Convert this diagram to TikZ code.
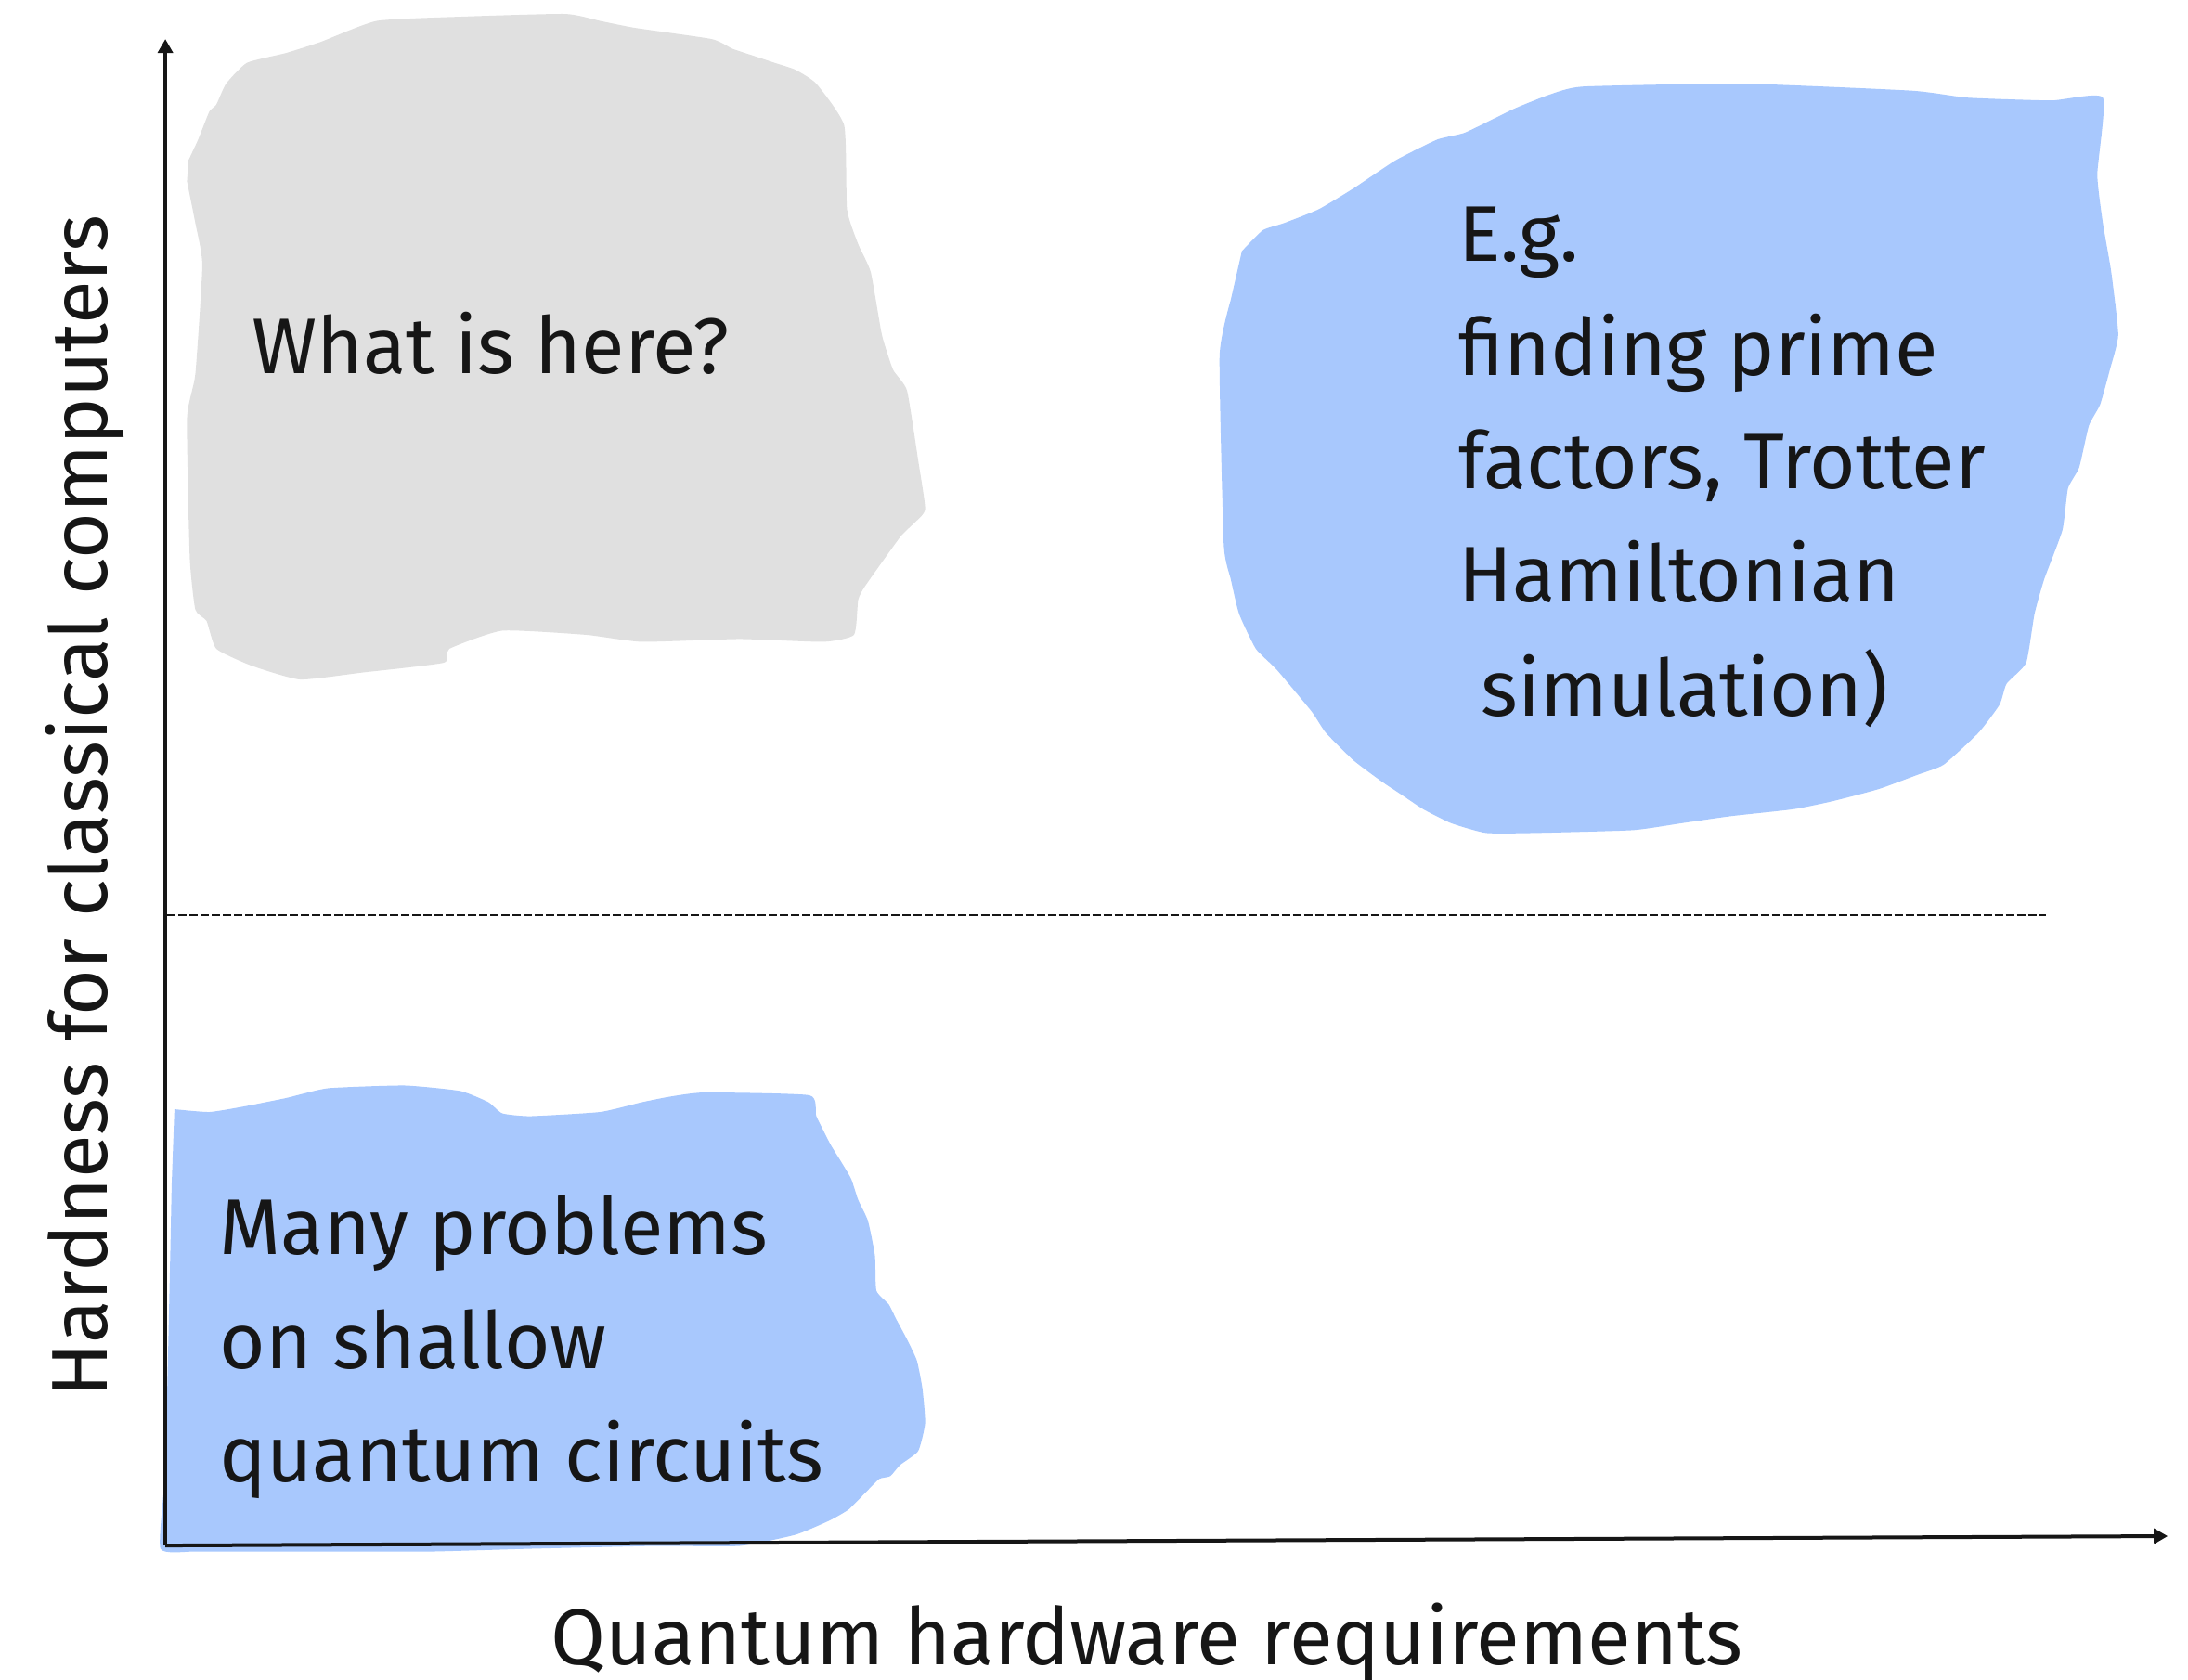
\documentclass[tikz,border=0pt]{standalone}
\usepackage{fontspec}
\setmainfont{Fira Sans}
\usetikzlibrary{arrows.meta}
\definecolor{blobgray}{HTML}{E0E0E0}
\definecolor{blobblue}{HTML}{A8C8FD}
\definecolor{ink}{HTML}{161616}
\begin{document}
\begin{tikzpicture}[x=0.4509pt,y=-0.4509pt,
  axis/.style={line width=1.2pt,draw=ink,-{Triangle[width=4.8pt,length=4.5pt]}},
  divider/.style={line width=0.6pt,draw=ink,dash pattern=on 2.7pt off 0.9pt},
  label/.style={inner sep=0pt,anchor=base west,text=ink,font=\fontsize{25.5}{36.7}\selectfont,align=left},
  axislabel/.style={inner sep=0pt,text=ink,font=\fontsize{25.6}{32}\selectfont}]
\useasboundingbox (0,0) rectangle (1568,1204);
% gray blob
\fill[blobgray] plot[smooth,tension=0.3] coordinates {(135,115)(142,100)(150,80)(155,75)(162,60)(177,45)(205,38)(230,30)(270,15)(330,12)(405,10)(430,15)(455,20)(510,28)(525,35)(540,40)(555,45)(570,50)(585,60)(605,90)(607,150)(615,175)(624,195)(632,240)(640,265)(650,280)(658,330)(663,365)(655,375)(645,385)(620,420)(615,430)(612,455)(590,460)(530,458)(460,460)(420,455)(360,452)(322,465)(318,475)(260,482)(215,487)(180,477)(155,465)(148,445)(140,437)(136,400)(134,300)(140,268)(145,190)(140,160)(134,130)} -- cycle;
% blue blob top right
\fill[blobblue] plot[smooth,tension=0.3] coordinates {(890,180)(905,165)(920,160)(945,150)(970,135)(1000,115)(1030,100)(1050,95)(1085,78)(1110,68)(1135,62)(1250,60)(1370,65)(1410,70)(1470,72)(1507,70)(1503,125)(1507,160)(1513,195)(1518,240)(1512,265)(1505,290)(1497,305)(1490,335)(1482,350)(1478,380)(1465,415)(1458,440)(1452,475)(1438,490)(1433,505)(1418,525)(1393,548)(1375,555)(1348,565)(1330,570)(1310,575)(1285,580)(1240,585)(1205,590)(1170,595)(1100,597)(1065,597)(1040,590)(1020,580)(1005,570)(990,560)(970,545)(950,525)(940,510)(915,480)(900,465)(888,440)(882,415)(877,390)(874,255)(882,215)} -- cycle;
% blue blob bottom left
\fill[blobblue] plot[smooth,tension=0.3] coordinates {(125,795)(150,797)(175,793)(205,787)(235,780)(290,778)(330,782)(350,790)(360,798)(380,800)(430,797)(460,790)(480,786)(505,783)(580,785)(585,800)(595,820)(603,833)(610,845)(615,860)(622,875)(627,900)(628,925)(637,935)(642,945)(650,960)(657,975)(661,995)(663,1020)(658,1040)(645,1050)(638,1058)(630,1060)(620,1070)(608,1082)(594,1090)(570,1100)(530,1108)(470,1108)(380,1110)(310,1112)(250,1112)(190,1112)(140,1112)(115,1110)(118,1060)(120,990)(122,900)(123,850)} -- cycle;
% axes
\coordinate (origin) at (118.5,1107.7);
\coordinate (ytip) at (118.5,28);
\coordinate (xtip) at (1553.5,1101);
\draw[axis] (origin) -- (ytip);
\draw[axis] (origin) -- (xtip);
% divider
\coordinate (dl) at (120,656);
\coordinate (dr) at (1466,656);
\draw[divider] (dl) -- (dr);
% texts (multi-line nodes are anchored at the baseline of their last line)
\node[label] (q) at (180,268) {What is here?};
\node[label] (eg) at (1045,513) {E.g.\\finding prime\\factors, Trotter\\Hamiltonian\\\hphantom{i}simulation)};
\node[label] (many) at (157,1062) {Many problems\\on shallow\\quantum circuits};
\node[axislabel,anchor=base] (xl) at (822,1193) {Quantum hardware requirements};
\node[axislabel,anchor=base,rotate=90] (yl) at (77,578) {Hardness for classical computers};
\end{tikzpicture}
\end{document}
